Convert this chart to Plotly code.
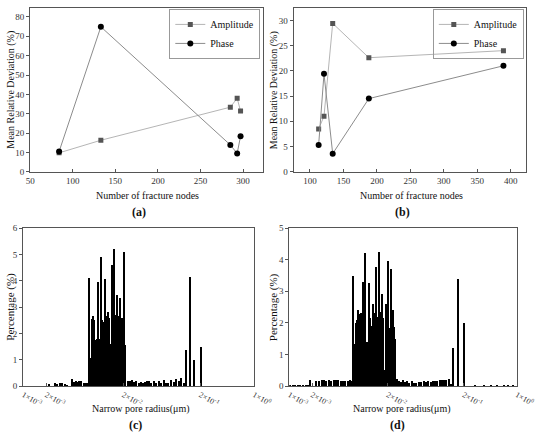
import numpy as np
import plotly.graph_objects as go

# (a) and (b): mean relative deviation against number of fracture nodes
nodes_a = [84, 133, 285, 293, 297]
amplitude_a = [9.8, 16.3, 33.4, 38.0, 31.4]
phase_a = [10.5, 74.9, 13.9, 9.5, 18.4]

nodes_b = [113, 121, 134, 188, 389]
amplitude_b = [8.5, 11.0, 29.4, 22.6, 24.0]
phase_b = [5.3, 19.4, 3.6, 14.5, 21.0]

# (c) and (d): narrow pore radius distribution, radius given as log10(um)
log_radius_c = [
    -2.658, -2.589, -2.552, -2.521, -2.489, -2.458, -2.421, -2.365, -2.340, -2.315,
    -2.290, -2.265, -2.240, -2.209, -2.178, -2.153,
    -2.135, -2.120, -2.105, -2.090, -2.075, -2.062, -2.050, -2.036, -2.022, -2.009,
    -1.996, -1.983, -1.969, -1.956, -1.944, -1.930, -1.918, -1.905, -1.892, -1.879,
    -1.867, -1.853, -1.841, -1.828, -1.815, -1.802, -1.790, -1.777, -1.763, -1.751,
    -1.738, -1.725, -1.712, -1.700, -1.687, -1.675,
    -1.639, -1.609, -1.580, -1.555, -1.527, -1.497, -1.472, -1.443, -1.415, -1.390,
    -1.360, -1.331, -1.298, -1.265, -1.235, -1.207, -1.173, -1.141, -1.111, -1.070,
    -1.041, -1.008, -0.974, -0.942, -0.912,
    -0.877, -0.831, -0.773, -0.686,
]
pct_c = [
    0.08, 0.12, 0.08, 0.10, 0.10, 0.06, 0.05, 0.28, 0.15, 0.18,
    0.15, 0.18, 0.18, 0.12, 0.10, 0.12,
    4.1, 1.05, 2.55, 2.65, 2.5, 0.9, 1.75, 1.8, 3.95, 1.8,
    0.3, 4.9, 2.5, 0.1, 2.45, 4.05, 1.2, 2.65, 2.8, 2.6,
    1.6, 0.5, 4.6, 2.7, 5.2, 0.25, 2.7, 3.45, 1.5, 2.65,
    3.35, 2.6, 1.55, 2.6, 5.1, 1.55,
    0.20, 0.18, 0.22, 0.17, 0.18, 0.12, 0.15, 0.13, 0.15, 0.20,
    0.18, 0.12, 0.20, 0.12, 0.20, 0.10, 0.22, 0.12, 0.12, 0.22,
    0.15, 0.25, 0.18, 0.30, 0.12,
    1.35, 4.15, 0.97, 1.48,
]

log_radius_d = [
    -2.984, -2.949, -2.917, -2.882, -2.848, -2.815, -2.781, -2.747,
    -2.718, -2.646, -2.600, -2.563, -2.537, -2.507, -2.474, -2.444, -2.411, -2.381,
    -2.351, -2.317, -2.284, -2.254, -2.225, -2.191, -2.171,
    -2.149, -2.133, -2.117, -2.102, -2.086, -2.070, -2.054, -2.038, -2.023, -2.007,
    -1.991, -1.975, -1.959, -1.944, -1.928, -1.912, -1.896, -1.880, -1.865, -1.849,
    -1.833, -1.817, -1.801, -1.786, -1.770, -1.754, -1.738, -1.722, -1.707, -1.691,
    -1.675, -1.659, -1.643, -1.628, -1.612, -1.596,
    -1.580, -1.551, -1.526, -1.496, -1.470, -1.441, -1.412, -1.382, -1.349, -1.319,
    -1.286, -1.252, -1.223, -1.192, -1.159, -1.129, -1.104, -1.075, -1.041, -1.011,
    -0.982, -0.948, -0.923, -0.894, -0.864,
    -0.837, -0.771, -0.695,
    -0.548, -0.421, -0.338, -0.253, -0.168, -0.105, -0.042,
]
pct_d = [
    0.03, 0.03, 0.03, 0.03, 0.03, 0.03, 0.03, 0.03,
    0.18, 0.17, 0.15, 0.18, 0.18, 0.15, 0.18, 0.15, 0.20, 0.18,
    0.18, 0.15, 0.17, 0.15, 0.15, 0.20, 0.17,
    3.48, 1.34, 2.0, 2.1, 2.42, 2.27, 2.3, 2.2, 3.3, 0.2,
    4.2, 1.4, 1.15, 3.27, 2.16, 1.9, 2.6, 0.8, 2.3, 3.78,
    2.2, 4.23, 1.2, 2.34, 2.9, 2.16, 0.5, 2.6, 2.2, 3.97,
    1.85, 3.71, 1.45, 2.42, 1.86, 1.5,
    0.22, 0.15, 0.12, 0.20, 0.12, 0.15, 0.10, 0.15, 0.10, 0.10,
    0.12, 0.13, 0.15, 0.12, 0.15, 0.12, 0.17, 0.17, 0.17, 0.20,
    0.20, 0.20, 0.20, 0.22, 0.05,
    1.2, 3.4, 2.0,
    0.03, 0.03, 0.03, 0.03, 0.03, 0.03, 0.03,
]

radius_ticks = [0.001, 0.002, 0.02, 0.2, 1]
radius_ticktext = ["1×10<sup>-3</sup>", "2×10<sup>-3</sup>", "2×10<sup>-2</sup>",
                   "2×10<sup>-1</sup>", "1×10<sup>0</sup>"]

FONT = "Liberation Serif, Times New Roman, DejaVu Serif, serif"
AXIS_COL = "#555555"

radius_c = 10 ** np.array(log_radius_c)
radius_d = 10 ** np.array(log_radius_d)

fig = go.Figure()

# line charts
for nodes, amp, pha, xa, ya, leg in [
    (nodes_a, amplitude_a, phase_a, "x", "y", "legend"),
    (nodes_b, amplitude_b, phase_b, "x2", "y2", "legend2"),
]:
    fig.add_trace(go.Scatter(
        x=nodes, y=amp, name="Amplitude", mode="lines+markers",
        line=dict(color="#b5b5b5", width=1),
        marker=dict(symbol="square", size=5, color="#555555"),
        xaxis=xa, yaxis=ya, legend=leg))
    fig.add_trace(go.Scatter(
        x=nodes, y=pha, name="Phase", mode="lines+markers",
        line=dict(color="#8c8c8c", width=1),
        marker=dict(symbol="circle", size=6, color="black"),
        xaxis=xa, yaxis=ya, legend=leg))

# pore radius histograms
for radius, pct, xa, ya in [(radius_c, pct_c, "x3", "y3"), (radius_d, pct_d, "x4", "y4")]:
    fig.add_trace(go.Bar(
        x=radius, y=pct, width=radius * 0.035,
        marker=dict(color="black", line=dict(width=0)),
        showlegend=False, xaxis=xa, yaxis=ya))


def frame(**kw):
    d = dict(showline=True, mirror=True, linecolor=AXIS_COL, linewidth=1,
             showgrid=False, zeroline=False, ticklen=3, tickcolor=AXIS_COL,
             tickfont=dict(size=9, family=FONT, color="#333"))
    d.update(kw)
    return d


def legend_box(x):
    return dict(x=x, y=1 - 4 / 441, xanchor="center", yanchor="top",
                bordercolor="#999", borderwidth=1, bgcolor="rgba(255,255,255,0)",
                font=dict(size=10, family=FONT, color="#111"), itemwidth=30,
                tracegroupgap=0)


top = [1 - 170.7 / 441, 1 - 3.3 / 441]
bottom = [1 - 390 / 441, 1 - 228.3 / 441]

fig.update_layout(
    width=550, height=441,
    margin=dict(l=0, r=0, t=0, b=0),
    paper_bgcolor="white", plot_bgcolor="white",
    font=dict(family=FONT, color="#222"),
    bargap=0,
    xaxis=frame(domain=[27.3 / 550, 270 / 550], range=[50, 323], dtick=50, ticks="inside", anchor="y"),
    yaxis=frame(domain=top, range=[0, 84.5], dtick=10, ticks="outside", anchor="x"),
    xaxis2=frame(domain=[302.3 / 550, 545 / 550], range=[75.7, 423], tick0=100, dtick=50,
                 ticks="inside", anchor="y2"),
    yaxis2=frame(domain=top, range=[0, 32.4], dtick=5, ticks="outside", anchor="x2"),
    xaxis3=frame(domain=[20 / 550, 261 / 550], type="log", range=[-3, 0],
                 tickvals=radius_ticks, ticktext=radius_ticktext, ticks="inside",
                 tickfont=dict(size=8, family=FONT, color="#333"), anchor="y3"),
    yaxis3=frame(domain=bottom, range=[0, 6], dtick=1, ticks="outside", anchor="x3"),
    xaxis4=frame(domain=[297.7 / 550, 535 / 550], type="log", range=[-3, 0],
                 tickvals=radius_ticks, ticktext=radius_ticktext, ticks="inside",
                 tickfont=dict(size=8, family=FONT, color="#333"), anchor="y4"),
    yaxis4=frame(domain=bottom, range=[0, 5], dtick=1, ticks="outside", anchor="x4"),
    legend=legend_box(220 / 550),
    legend2=legend_box(495 / 550),
)

notes = [
    ("Number of fracture nodes", 150 / 550, 1 - 195 / 441, 0, 10, False),
    ("Number of fracture nodes", 425 / 550, 1 - 195 / 441, 0, 10, False),
    ("Mean Relative Deviation (%)", 7 / 550, 1 - 87 / 441, -90, 10, False),
    ("Mean Relative Deviation (%)", 282 / 550, 1 - 87 / 441, -90, 10, False),
    ("Narrow pore radius(μm)", 143.3 / 550, 1 - 413 / 441, 0, 10, False),
    ("Narrow pore radius(μm)", 415 / 550, 1 - 413 / 441, 0, 10, False),
    ("Percentage (%)", 7 / 550, 1 - 309 / 441, -90, 11, False),
    ("Percentage (%)", 282 / 550, 1 - 309 / 441, -90, 11, False),
    ("(a)", 140.7 / 550, 1 - 211.7 / 441, 0, 12, True),
    ("(b)", 415.7 / 550, 1 - 211.7 / 441, 0, 12, True),
    ("(c)", 137.7 / 550, 1 - 430 / 441, 0, 12, True),
    ("(d)", 410.7 / 550, 1 - 430 / 441, 0, 12, True),
]
for text, x, y, angle, size, bold in notes:
    fig.add_annotation(
        text=f"<b>{text}</b>" if bold else text, x=x, y=y, xref="paper", yref="paper",
        xanchor="center", yanchor="middle", showarrow=False, textangle=angle,
        font=dict(size=size, family=FONT, color="#111"))

# drop the browser's default 8px body margin so the figure fills the window
fig.write_html("out.html", config={"displayModeBar": False},
               post_script="document.body.style.margin = '0';")
